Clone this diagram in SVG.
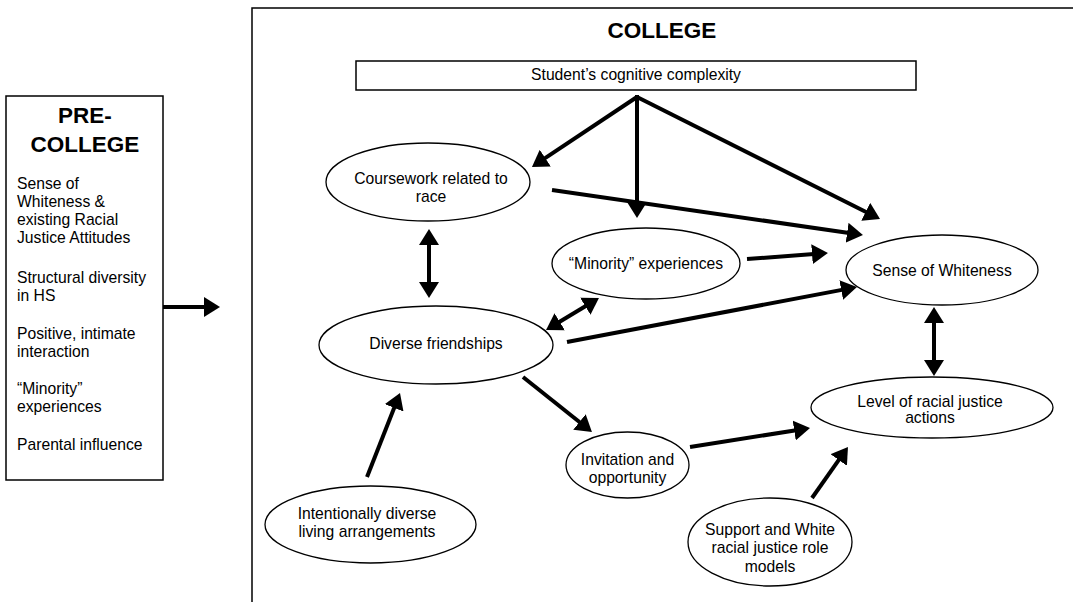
<svg xmlns="http://www.w3.org/2000/svg" width="1073" height="602" viewBox="0 0 1073 602">
<style>
text{font-family:"Liberation Sans",Arial,sans-serif;fill:#000}
.t{font-size:15.7px;text-anchor:middle}
.l{font-size:15.7px}
.h{font-size:22.5px;font-weight:bold;text-anchor:middle}
.box{fill:#fff;stroke:#000;stroke-width:1.5}
.node{fill:#fff;stroke:#000;stroke-width:1.3}
.a{stroke:#000;stroke-width:4;fill:none;marker-end:url(#ah)}
.d{stroke:#000;stroke-width:4;fill:none;marker-end:url(#ah);marker-start:url(#ah)}
</style>
<defs>
<marker id="ah" viewBox="0 0 16 20" markerWidth="16" markerHeight="20" refX="2" refY="10" orient="auto-start-reverse" markerUnits="userSpaceOnUse">
<path d="M0,0 L16,10 L0,20 z" fill="#000"/>
</marker>
</defs>
<rect width="1073" height="602" fill="#fff"/>
<g id="college">
<rect class="box" x="252" y="8" width="830" height="610"/>
<text class="h" x="662" y="38">COLLEGE</text>
</g>
<g id="precollege">
<rect class="box" x="6" y="96" width="157" height="384"/>
<text class="h" x="85" y="123">PRE-</text>
<text class="h" x="85" y="152">COLLEGE</text>
<text class="l" x="17" y="189">Sense of</text>
<text class="l" x="17" y="207">Whiteness &amp;</text>
<text class="l" x="17" y="225">existing Racial</text>
<text class="l" x="17" y="243">Justice Attitudes</text>
<text class="l" x="17" y="283">Structural diversity</text>
<text class="l" x="17" y="301">in HS</text>
<text class="l" x="17" y="339">Positive, intimate</text>
<text class="l" x="17" y="357">interaction</text>
<text class="l" x="17" y="394">“Minority”</text>
<text class="l" x="17" y="412">experiences</text>
<text class="l" x="17" y="450">Parental influence</text>
</g>
<g id="cognitive">
<rect class="box" x="356" y="61" width="560" height="29"/>
<text class="t" x="636" y="80">Student’s cognitive complexity</text>
</g>
<g id="coursework">
<ellipse class="node" cx="428" cy="182" rx="102" ry="39"/>
<text class="t" x="431" y="184">Coursework related to</text>
<text class="t" x="431" y="202">race</text>
</g>
<g id="minority">
<ellipse class="node" cx="646" cy="263.5" rx="94" ry="35.5"/>
<text class="t" x="646" y="269">“Minority” experiences</text>
</g>
<g id="whiteness">
<ellipse class="node" cx="942" cy="270" rx="96" ry="35"/>
<text class="t" x="942" y="276">Sense of Whiteness</text>
</g>
<g id="friendships">
<ellipse class="node" cx="436" cy="345" rx="117" ry="39"/>
<text class="t" x="436" y="349">Diverse friendships</text>
</g>
<g id="invitation">
<ellipse class="node" cx="627.5" cy="465" rx="61.5" ry="33"/>
<text class="t" x="627.5" y="465">Invitation and</text>
<text class="t" x="627.5" y="483">opportunity</text>
</g>
<g id="actions">
<ellipse class="node" cx="932" cy="407.5" rx="121" ry="30.5"/>
<text class="t" x="930" y="407">Level of racial justice</text>
<text class="t" x="930" y="423">actions</text>
</g>
<g id="living">
<ellipse class="node" cx="370.5" cy="524.5" rx="105.5" ry="38.5"/>
<text class="t" x="367" y="519">Intentionally diverse</text>
<text class="t" x="367" y="537">living arrangements</text>
</g>
<g id="support">
<ellipse class="node" cx="770" cy="542" rx="82" ry="44"/>
<text class="t" x="770" y="535">Support and White</text>
<text class="t" x="770" y="553">racial justice role</text>
<text class="t" x="770" y="572">models</text>
</g>
<g id="connectors">
<line class="a" x1="163" y1="307" x2="206" y2="307"/>
<line class="a" x1="637" y1="97" x2="543.6" y2="159.2"/>
<line class="a" x1="637" y1="95" x2="637" y2="204"/>
<line class="a" x1="637" y1="97" x2="867.5" y2="212.7"/>
<line class="a" x1="552" y1="190" x2="849.1" y2="233"/>
<line class="a" x1="747" y1="259" x2="814" y2="254"/>
<line class="a" x1="567" y1="342" x2="843.2" y2="289.6"/>
<line class="a" x1="523" y1="377" x2="581" y2="423.3"/>
<line class="a" x1="690" y1="447" x2="796.2" y2="430.2"/>
<line class="a" x1="812" y1="498" x2="839.9" y2="458.4"/>
<line class="a" x1="367" y1="477" x2="394.9" y2="406"/>
<line class="d" x1="429" y1="243" x2="429" y2="284"/>
<line class="d" x1="558" y1="322.8" x2="587" y2="305.2"/>
<line class="d" x1="934" y1="321" x2="934" y2="362"/>
</g>
</svg>
